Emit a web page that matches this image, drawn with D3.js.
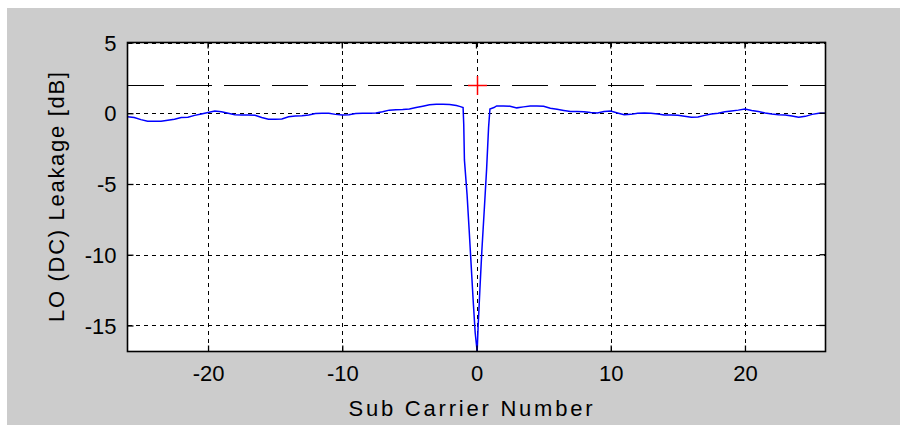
<!DOCTYPE html>
<html>
<head>
<meta charset="utf-8">
<script src="https://cdn.jsdelivr.net/npm/d3@7"></script>
<style>
  html, body { margin: 0; padding: 0; background: #ffffff; }
  svg { display: block; }
  text { font-family: "Liberation Sans", Arial, sans-serif; fill: #000; }
</style>
</head>
<body>
<svg id="chart" width="900" height="425"></svg>
<script>
// Sub-carrier index and measured LO (DC) leakage per sub-carrier, in dB
const subCarrier = [
  -26, -25.5, -25, -24.5, -24, -23.5, -23, -22.5, -22, -21.5, -21, -20.5, -20,
  -19.5, -19, -18.5, -18, -17.5, -17, -16.5, -16, -15.5, -15, -14.5, -14, -13.5,
  -13, -12.5, -12, -11.5, -11, -10.5, -10, -9.5, -9, -8.5, -8, -7.5, -7, -6.5,
  -6, -5.5, -5, -4.5, -4, -3.5, -3, -2.5, -2, -1.5, -1.2, -1.0,
  -0.95, -0.9, -0.7, -0.55, -0.4, -0.25, -0.1, 0.05, 0.12, 0.25, 0.4, 0.58, 0.75, 0.9,
  1.0, 1.3, 1.5, 2, 2.5, 3, 3.5, 4, 4.5, 5, 5.5, 6, 6.5, 7, 7.5, 8, 8.5, 9, 9.5,
  10, 10.5, 11, 11.5, 12, 12.5, 13, 13.5, 14, 14.5, 15, 15.5, 16, 16.5, 17, 17.5,
  18, 18.5, 19, 19.5, 20, 20.5, 21, 21.5, 22, 22.5, 23, 23.5, 24, 24.5, 25, 25.5, 26
];
const leakageDb = [
  -0.24, -0.3, -0.45, -0.57, -0.57, -0.57, -0.5, -0.42, -0.3, -0.28, -0.15, -0.05, 0.05,
  0.15, 0.1, 0.0, -0.1, -0.12, -0.12, -0.15, -0.3, -0.42, -0.42, -0.4, -0.25, -0.2,
  -0.18, -0.12, -0.02, 0.0, 0.0, -0.08, -0.12, -0.1, -0.02, 0.0, 0.0, 0.02, 0.1, 0.22,
  0.24, 0.26, 0.3, 0.4, 0.5, 0.6, 0.64, 0.64, 0.62, 0.55, 0.47, 0.4,
  -0.8, -3.3, -5.8, -8.2, -10.7, -13.2, -15.5, -16.84, -15.1, -12.5, -9.7, -6.8, -4.0, -1.0,
  0.3, 0.4, 0.52, 0.52, 0.5, 0.38, 0.45, 0.52, 0.52, 0.5, 0.35, 0.28, 0.2, 0.12, 0.12, 0.1, 0.05, 0.02, 0.12,
  0.15, 0.02, -0.1, -0.08, 0.0, 0.02, 0.0, -0.05, -0.12, -0.12, -0.15, -0.22, -0.28, -0.26, -0.15, -0.05,
  0.0, 0.1, 0.16, 0.22, 0.3, 0.2, 0.12, 0.02, -0.05, -0.1, -0.12, -0.2, -0.28, -0.22, -0.08, 0.0, 0.0
];

// Specification limit and its marker at DC
const limitDb = 2;
const limitMarkerX = [0];
const limitMarkerY = [2];

const xTicks = [-20, -10, 0, 10, 20];
const yTicks = [5, 0, -5, -10, -15];
const xRange = [-26, 26];
const yMax = 5;

const xLabel = "Sub Carrier Number";
const yLabel = "LO (DC) Leakage [dB]";

const W = 900, H = 425;
const plot = { left: 127.5, top: 42.5, right: 825.5, bottom: 351.5 };

const svg = d3.select("#chart");

// Figure background
svg.append("rect")
  .attr("x", 7).attr("y", 8)
  .attr("width", W - 7).attr("height", H - 8)
  .attr("fill", "#cccccc");

const x = d3.scaleLinear().domain(xRange).range([plot.left, plot.right]);
const y = d3.scaleLinear().domain([d3.min(leakageDb), yMax]).range([plot.bottom, plot.top]);

// Plain hyphen-minus tick labels
const fmt = d => String(d);

// Axes area
svg.append("rect")
  .attr("x", plot.left).attr("y", plot.top)
  .attr("width", plot.right - plot.left).attr("height", plot.bottom - plot.top)
  .attr("fill", "#ffffff");

// Dotted grid
const grid = svg.append("g")
  .attr("stroke", "#000").attr("stroke-width", 1.3)
  .attr("stroke-dasharray", "4,4").attr("shape-rendering", "crispEdges");
grid.selectAll("line.gx").data(xTicks).join("line")
  .attr("x1", d => Math.round(x(d)) + 0.5).attr("x2", d => Math.round(x(d)) + 0.5)
  .attr("y1", plot.top).attr("y2", plot.bottom);
grid.selectAll("line.gy").data(yTicks).join("line")
  .attr("y1", d => Math.round(y(d)) + 0.5).attr("y2", d => Math.round(y(d)) + 0.5)
  .attr("x1", plot.left).attr("x2", plot.right);

// Limit line
svg.append("line")
  .attr("x1", plot.left).attr("x2", plot.right)
  .attr("y1", Math.round(y(limitDb)) + 0.5).attr("y2", Math.round(y(limitDb)) + 0.5)
  .attr("stroke", "#000").attr("stroke-width", 1.3)
  .attr("stroke-dasharray", "36,12").attr("shape-rendering", "crispEdges");

// Leakage trace
const line = d3.line()
  .x((d, i) => x(subCarrier[i]))
  .y(d => y(d));
svg.append("path")
  .datum(leakageDb)
  .attr("d", line)
  .attr("fill", "none")
  .attr("stroke", "#0000ff")
  .attr("stroke-width", 1.5)
  .attr("stroke-linejoin", "miter");

// Red cross marker at the limit
const markers = svg.append("g").attr("stroke", "#ff0000").attr("stroke-width", 1.5);
limitMarkerX.forEach((mxv, i) => {
  const cx = Math.round(x(mxv)) + 0.5;
  const cy = Math.round(y(limitMarkerY[i])) + 0.5;
  markers.append("line").attr("x1", cx - 9.5).attr("x2", cx + 9.5).attr("y1", cy).attr("y2", cy);
  markers.append("line").attr("x1", cx).attr("x2", cx).attr("y1", cy - 9.5).attr("y2", cy + 9.5);
});

// Axes with inward ticks
const xAxis = d3.axisBottom(x).tickValues(xTicks).tickSize(-6).tickPadding(14).tickFormat(fmt);
const yAxis = d3.axisLeft(y).tickValues(yTicks).tickSize(-6).tickPadding(11).tickFormat(fmt);

const gx = svg.append("g").attr("transform", `translate(0,${plot.bottom})`).call(xAxis);
const gy = svg.append("g").attr("transform", `translate(${plot.left},0)`).call(yAxis);
[gx, gy].forEach(g => {
  g.select(".domain").remove();
  g.selectAll(".tick line").attr("stroke", "#000").attr("stroke-width", 1.3);
  g.selectAll(".tick text")
    .attr("font-size", 22)
    .attr("font-family", "'Liberation Sans', Arial, sans-serif")
    .attr("fill", "#000");
});
gx.selectAll(".tick text").attr("dy", "0.71em");
gy.selectAll(".tick text").attr("dy", "0.35em");

// Mirrored ticks on top and right
svg.append("g").selectAll("line").data(xTicks).join("line")
  .attr("x1", d => x(d)).attr("x2", d => x(d))
  .attr("y1", plot.top).attr("y2", plot.top + 6)
  .attr("stroke", "#000").attr("stroke-width", 1.3);
svg.append("g").selectAll("line").data(yTicks).join("line")
  .attr("y1", d => y(d)).attr("y2", d => y(d))
  .attr("x1", plot.right).attr("x2", plot.right - 6)
  .attr("stroke", "#000").attr("stroke-width", 1.3);

// Axes box
svg.append("rect")
  .attr("x", plot.left).attr("y", plot.top)
  .attr("width", plot.right - plot.left).attr("height", plot.bottom - plot.top)
  .attr("fill", "none").attr("stroke", "#000").attr("stroke-width", 1.6);

// Axis labels
svg.append("text")
  .attr("x", (plot.left + plot.right) / 2 - 6)
  .attr("y", 416)
  .attr("text-anchor", "middle")
  .attr("font-size", 22)
  .attr("textLength", 244)
  .attr("lengthAdjust", "spacing")
  .text(xLabel);

svg.append("text")
  .attr("transform", `translate(64,${(plot.top + plot.bottom) / 2}) rotate(-90)`)
  .attr("text-anchor", "middle")
  .attr("font-size", 22)
  .attr("textLength", 250)
  .attr("lengthAdjust", "spacing")
  .text(yLabel);
</script>
</body>
</html>
